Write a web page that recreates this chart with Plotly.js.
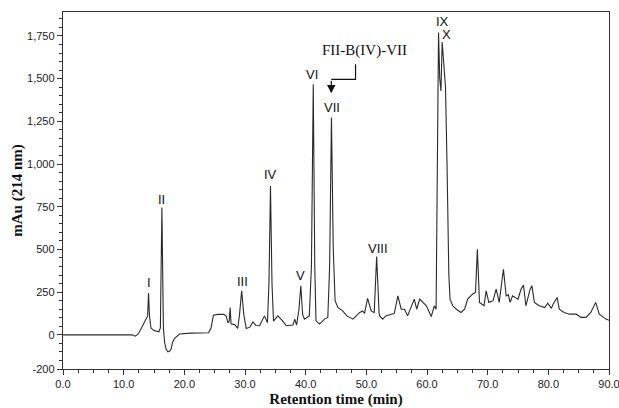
<!DOCTYPE html>
<html>
<head>
<meta charset="utf-8">
<script src="https://cdn.plot.ly/plotly-3.0.1.min.js"></script>
<style>html,body{margin:0;padding:0;background:#fff;}#chart{width:619px;height:408px;}</style>
</head>
<body>
<div id="chart"></div>
<script>
// Retention time (min)
const retentionTime = [
  0, 11.4, 11.9, 12.4, 13.0, 13.6, 13.95, 14.1, 14.25, 14.5, 15.0, 15.8, 16.05, 16.3, 16.55,
  16.75, 17.0, 17.3, 17.6, 17.8, 18.1, 18.4, 19.2, 21.0, 24.0, 24.4, 24.8, 25.5, 26.5, 26.9,
  27.2, 27.4, 27.55, 27.7, 28.3, 28.8, 29.1, 29.45, 29.8, 30.2, 30.8, 31.3, 31.8, 32.4, 33.2,
  33.7, 33.95, 34.2, 34.45, 34.7, 35.4, 36.2, 36.8, 37.9, 38.2, 38.5, 38.9, 39.2, 39.5, 39.8,
  40.6, 40.95, 41.25, 41.5, 41.7, 42.3, 43.1, 43.65, 43.95, 44.25, 44.55, 44.85, 45.3, 46.1, 46.8,
  47.8, 48.9, 49.4, 49.7, 50.2, 50.8, 51.3, 51.7, 52.1, 52.2, 52.7, 53.2, 54.1, 54.6, 55.2,
  55.75, 56.3, 56.8, 57.9, 58.3, 58.8, 59.9, 60.7, 61.2, 61.5, 61.7, 61.9, 62.1, 62.3, 62.5,
  62.75, 63.05, 63.3, 63.6, 63.8, 64.25, 64.85, 65.6, 66.2, 66.7, 67.5, 68.0, 68.3, 68.65, 69.4,
  69.75, 70.2, 70.9, 71.4, 71.9, 72.6, 73.05, 73.4, 73.7, 74.1, 75.0, 75.5, 75.9, 76.3, 77.0,
  77.3, 77.7, 78.5, 79.4, 79.9, 80.5, 80.8, 81.45, 81.8, 82.6, 83.5, 84.6, 85.4, 86.2, 87.0,
  87.8, 88.4, 89.5, 90.0
];
// Absorbance mAu (214 nm)
const absorbance = [
  0, 0, -8, 5, 45, 85, 111, 245, 111, 40, 25, 18, 40, 745, 40,
  -45, -85, -100, -95, -85, -40, -20, 5, 10, 12, 40, 115, 120, 120, 110,
  70, 80, 160, 65, 60, 37, 120, 258, 120, 37, 45, 76, 55, 53, 111,
  72, 300, 872, 300, 80, 111, 82, 53, 57, 92, 57, 150, 287, 120, 92,
  111, 400, 1467, 400, 82, 63, 92, 102, 400, 1272, 500, 200, 160, 140, 111,
  92, 131, 140, 125, 213, 140, 130, 459, 130, 111, 92, 111, 121, 125, 228,
  150, 150, 111, 209, 150, 209, 170, 107, 170, 150, 900, 1770, 1500, 1428, 1714,
  1600, 1448, 1000, 350, 209, 170, 150, 131, 150, 209, 238, 250, 501, 190, 170,
  258, 190, 200, 267, 190, 384, 228, 235, 190, 228, 209, 267, 291, 170, 267,
  287, 190, 170, 160, 185, 155, 180, 219, 150, 131, 121, 121, 102, 102, 131,
  190, 121, 92, 85
];
// Axis tick values and labels
const yTickValues = [-200, 0, 250, 500, 750, 1000, 1250, 1500, 1750];
const yTickLabels = ['-200', '0', '250', '500', '750', '1,000', '1,250', '1,500', '1,750'];
const xTickValues = [0, 10, 20, 30, 40, 50, 60, 70, 80, 90];
const xTickLabels = ['0.0', '10.0', '20.0', '30.0', '40.0', '50.0', '60.0', '70.0', '80.0', '90.0'];
// Peak labels and where they are written (data coordinates)
const peakLabels = ['I', 'II', 'III', 'IV', 'V', 'VI', 'VII', 'VIII', 'IX', 'X'];
const peakLabelTime = [14.17, 16.31, 29.52, 34.22, 39.16, 41.02, 44.38, 51.89, 62.55, 63.21];
const peakLabelValue = [307, 794, 311, 937, 345, 1525, 1331, 506, 1837, 1760];
// Fraction note
const noteText = 'FII-B(IV)-VII';
const notePos = [49.74, 1662];
const noteBend = [[48.22, 1584], [48.22, 1496], [44.22, 1496]];
const noteTip = [44.22, 1414];

const annotations = peakLabels.map((t, i) => ({
  x: peakLabelTime[i], y: peakLabelValue[i], xref: 'x', yref: 'y',
  text: t, showarrow: false, xanchor: 'center', yanchor: 'middle',
  font: {family: 'Liberation Sans, Arial, sans-serif', size: 13, color: '#111'}
}));
annotations.push({
  x: notePos[0], y: notePos[1], xref: 'x', yref: 'y', text: noteText, showarrow: false,
  font: {family: 'Liberation Serif, Times New Roman, serif', size: 15, color: '#111'}
});
annotations.push({
  x: noteTip[0], y: noteTip[1], xref: 'x', yref: 'y',
  ax: noteBend[2][0], ay: noteBend[2][1], axref: 'x', ayref: 'y',
  text: '', showarrow: true, arrowhead: 2, arrowsize: 1.4, arrowwidth: 1.2, arrowcolor: '#111'
});

const pathStr = 'M ' + noteBend.map(p => p[0] + ',' + p[1]).join(' L ');

const trace = {
  x: retentionTime, y: absorbance, type: 'scatter', mode: 'lines',
  line: {color: '#2a2a2a', width: 1.1}, hoverinfo: 'skip'
};

const tickFont = {family: 'Liberation Sans, Arial, sans-serif', size: 11, color: '#222'};
const titleFont = {family: 'Liberation Serif, Times New Roman, serif', size: 15, color: '#111', weight: 'bold'};

const layout = {
  width: 619, height: 408,
  margin: {l: 63, r: 10, t: 12, b: 39},
  paper_bgcolor: '#fff', plot_bgcolor: '#fff',
  showlegend: false,
  xaxis: {
    range: [0, 90], tickmode: 'array', tickvals: xTickValues, ticktext: xTickLabels,
    ticklabeloverflow: 'allow',
    ticks: 'outside', ticklen: 5, tickcolor: '#333', tickwidth: 1,
    minor: {dtick: 2.5, tick0: 0, ticks: 'outside', ticklen: 3, tickcolor: '#333'},
    showline: true, linecolor: '#333', linewidth: 1.2, mirror: true,
    showgrid: false, zeroline: false, tickfont: tickFont,
    title: {text: '<b>Retention time (min)</b>', font: titleFont, standoff: 6}
  },
  yaxis: {
    range: [-200, 1890], tickmode: 'array', tickvals: yTickValues, ticktext: yTickLabels,
    ticklabeloverflow: 'allow',
    ticks: 'outside', ticklen: 5, tickcolor: '#333', tickwidth: 1,
    minor: {dtick: 50, tick0: 0, ticks: 'outside', ticklen: 3, tickcolor: '#333'},
    showline: true, linecolor: '#333', linewidth: 1.2, mirror: true,
    showgrid: false, zeroline: false, tickfont: tickFont,
    title: {text: '<b>mAu (214 nm)</b>', font: titleFont, standoff: 0}
  },
  shapes: [{type: 'path', xref: 'x', yref: 'y', path: pathStr, line: {color: '#111', width: 1.2}}],
  annotations: annotations
};

Plotly.newPlot('chart', [trace], layout, {displayModeBar: false, staticPlot: true});
</script>
</body>
</html>
